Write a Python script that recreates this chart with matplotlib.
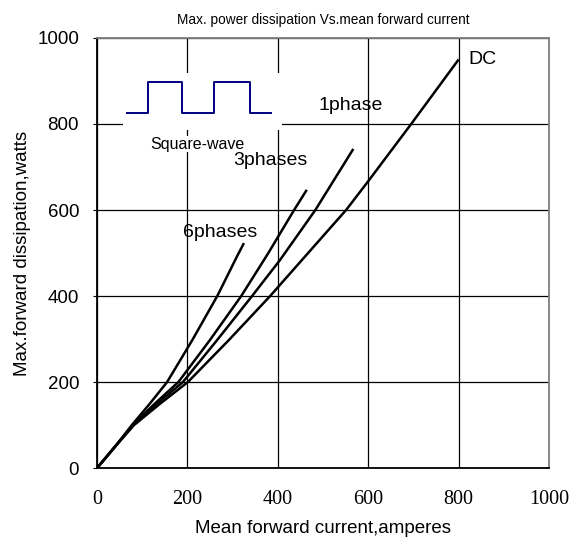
import matplotlib.pyplot as plt
from matplotlib.patches import Rectangle
from matplotlib import font_manager

# curves: (current A, power W)
dc_i = [0, 40, 82, 140, 201, 292, 383, 467, 551, 600, 695, 800]
dc_p = [0, 50, 100, 150, 200, 298, 400, 500, 600, 667, 800, 950]
ph1_i = [0, 40, 80, 133, 190, 266, 343, 405, 483, 567]
ph1_p = [0, 50, 100, 150, 200, 298, 400, 484, 600, 742]
ph3_i = [0, 40, 79, 128, 180, 250, 319, 379, 436, 464]
ph3_p = [0, 50, 100, 150, 200, 298, 400, 500, 600, 647]
ph6_i = [0, 40, 77, 117, 155, 211, 266, 311, 325]
ph6_p = [0, 50, 100, 150, 200, 298, 400, 495, 523]

# square wave inset
sq_x = [66, 113, 113, 188, 188, 259, 259, 338, 338, 385]
sq_y = [826, 826, 898, 898, 826, 826, 898, 898, 826, 826]

xticks = [0, 200, 400, 600, 800, 1000]
yticks = [0, 200, 400, 600, 800, 1000]

# condensed font for the title if there is one
try:
    font_manager.findfont('Liberation Sans Narrow', fallback_to_default=False)
    title_font, title_size = 'Liberation Sans Narrow', 12.5
except Exception:
    title_font, title_size = 'Liberation Sans', 9.8

fig = plt.figure(figsize=(5.71, 5.42), dpi=100)
ax = fig.add_axes([0.170, 0.1365, 0.7915, 0.7934])
ax.set_xlim(0, 1000)
ax.set_ylim(0, 1000)
ax.set_xticks(xticks)
ax.set_yticks(yticks)
ax.grid(True, color='black', linewidth=0.9)
ax.set_axisbelow(True)

for xs, ys in [(dc_i, dc_p), (ph1_i, ph1_p), (ph3_i, ph3_p), (ph6_i, ph6_p)]:
    ax.plot(xs, ys, color='black', lw=1.8, solid_capstyle='butt', solid_joinstyle='round', zorder=3)

# white patch behind inset
ax.add_patch(Rectangle((58, 786), 351, 133, facecolor='white', edgecolor='none', zorder=2))
ax.plot(sq_x, sq_y, color='#00007f', lw=1.4, zorder=4)
ax.text(223, 753, 'Square-wave', fontsize=11.5, ha='center', va='center',
        family='Liberation Sans', zorder=5,
        bbox=dict(facecolor='white', edgecolor='none', pad=0.5))

lab = dict(fontsize=14, family='Liberation Sans', va='center', ha='left', zorder=4)
ax.text(821, 951, 'DC', **lab)
ax.text(489, 842, '1phase', **lab)
ax.text(301, 714, '3phases', **lab)
ax.text(190, 547, '6phases', **lab)

for s in ['left', 'bottom']:
    ax.spines[s].set_color('black')
    ax.spines[s].set_linewidth(1.3)
for s in ['top', 'right']:
    ax.spines[s].set_color('#808080')
    ax.spines[s].set_linewidth(1.3)

ax.tick_params(axis='x', length=0, pad=16)
ax.tick_params(axis='y', length=3, direction='out', pad=10)
for t in ax.get_xticklabels():
    t.set_family('Liberation Serif')
    t.set_fontsize(14.5)
for t in ax.get_yticklabels():
    t.set_family('Liberation Sans')
    t.set_fontsize(13.5)

ax.set_xlabel('Mean forward current,amperes', fontsize=13.5, family='Liberation Sans', labelpad=8)
ax.set_ylabel('Max.forward dissipation,watts', fontsize=13.5, family='Liberation Sans', labelpad=4.5)
ax.set_title('Max. power dissipation Vs.mean forward current', fontsize=title_size,
             family=title_font, pad=10)

fig.savefig('out.png', dpi=100)
